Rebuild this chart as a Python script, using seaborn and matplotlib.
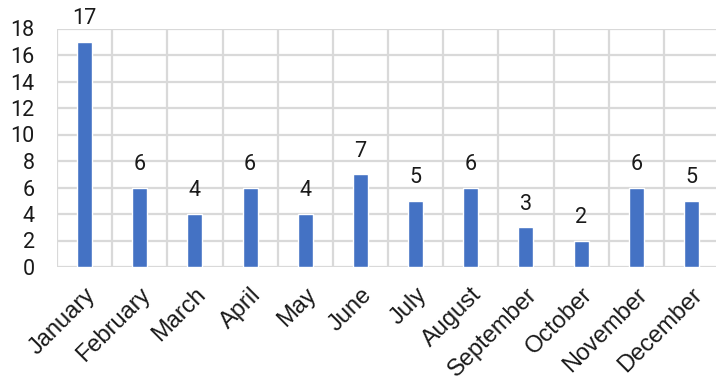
import matplotlib
matplotlib.use("Agg")
import matplotlib.pyplot as plt
import seaborn as sns
import pandas as pd

months = ['January', 'February', 'March', 'April', 'May', 'June', 'July',
          'August', 'September', 'October', 'November', 'December']
counts = [17, 6, 4, 6, 4, 7, 5, 6, 3, 2, 6, 5]
yticks = [0, 2, 4, 6, 8, 10, 12, 14, 16, 18]

df = pd.DataFrame({'month': months, 'count': counts})

sns.set_theme(style="whitegrid")
plt.rcParams['font.family'] = ['Roboto', 'DejaVu Sans']

fig = plt.figure(figsize=(7.16, 3.81), dpi=100)
# plot area runs a little past the right edge of the picture
ax = fig.add_axes([57 / 716, 1 - 267 / 381, 662 / 716, 238.5 / 381])
sns.barplot(data=df, x='month', y='count', color='#4472C4', width=0.27,
            saturation=1, ax=ax)

for c in ax.containers:
    ax.bar_label(c, fontsize=15.5, padding=9, color='#1a1a1a')

ax.set_ylim(0, 18)
ax.set_yticks(yticks)
ax.set_xlim(-0.5, len(months) - 0.5)
ax.set_xticks(range(len(months)), labels=months, rotation=45, ha='right',
              rotation_mode='anchor', fontsize=17,
              family=['Liberation Sans', 'DejaVu Sans'])
# vertical grid at category boundaries
ax.set_xticks([i + 0.5 for i in range(-1, len(months))], minor=True)
ax.grid(False)
ax.grid(True, which='minor', axis='x', color='#d9d9d9', linewidth=1.6)
ax.grid(True, which='major', axis='y', color='#d9d9d9', linewidth=1.6)
ax.tick_params(axis='x', which='minor', length=0)
ax.tick_params(axis='both', which='major', length=0, colors='#1a1a1a')
ax.tick_params(axis='y', pad=16, labelsize=15.5)
ax.tick_params(axis='x', pad=12)
ax.set_xlabel('')
ax.set_ylabel('')
for s in ax.spines.values():
    s.set_visible(False)
ax.set_axisbelow(True)

fig.savefig('out.png', dpi=100)
